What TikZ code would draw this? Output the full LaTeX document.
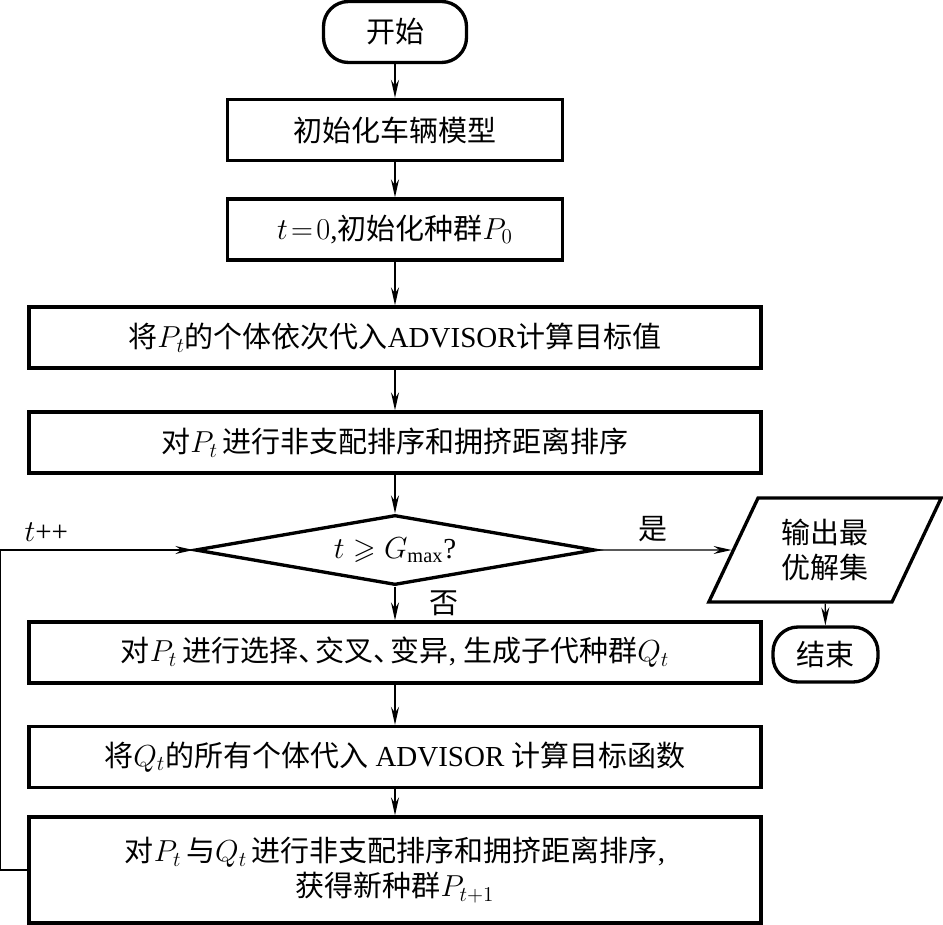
\documentclass[tikz,border=0pt]{standalone}
\usepackage{amsmath,amssymb}
\usepackage{fontspec}
\setmainfont{Liberation Serif}
\newfontfamily\zhfont{Noto Sans CJK SC}
\newcommand{\zhtext}[1]{{\zhfont #1}}
\newcommand{\dun}{\zhtext{、}\kern-0.4em}
\usepackage{tikz}
\usetikzlibrary{positioning,arrows.meta,shapes.geometric,calc}

\begin{document}
\begin{tikzpicture}[
  font=\fontsize{16.5}{20}\selectfont,
  >={Stealth[length=3.6mm, width=1.6mm, inset=1.2mm]},
  base/.style={draw, line width=1.9pt, align=center, inner sep=2pt},
  proc/.style={base, minimum height=1.22cm},
  narrow/.style={proc, minimum width=6.7cm},
  wide/.style={proc, minimum width=14.64cm},
  term/.style={base, rounded corners=0.5cm, minimum height=1.15cm},
  ar/.style={->, line width=0.8pt}
]
\useasboundingbox (0,0) rectangle (18.86,-18.48);
% 主流程
\node[term, minimum width=2.86cm, minimum height=1.22cm] (start) at (7.9,-0.64) {\zhtext{开始}};
\node[narrow] (init) at (7.9,-2.6) {\zhtext{初始化车辆模型}};
\node[narrow] (pop) at (7.9,-4.59) {$t\!=\!0$,\zhtext{初始化种群}$P_0$};
\node[wide] (eval) at (7.9,-6.75) {\zhtext{将}$P_t$\zhtext{的个体依次代入}ADVISOR\zhtext{计算目标值}};
\node[wide] (sort) at (7.9,-8.85) {\zhtext{对}$P_t$\,\zhtext{进行非支配排序和拥挤距离排序}};
\node[base, shape=diamond, aspect=5.7, inner sep=0pt, minimum width=8cm, minimum height=1.4cm] (check) at (7.9,-11.0) {$t\geqslant G_{\max}$?};
\node[wide] (breed) at (7.9,-13.05) {\zhtext{对}$P_t$\,\zhtext{进行选择}\dun\zhtext{交叉}\dun\zhtext{变异}, \zhtext{生成子代种群}$Q_t$};
\node[wide] (evalq) at (7.9,-15.14) {\zhtext{将}$Q_t$\zhtext{的所有个体代入} ADVISOR \zhtext{计算目标函数}};
\node[wide, minimum height=2.12cm] (merge) at (7.9,-17.4) {\zhtext{对}$P_t$\,\zhtext{与}$Q_t$\,\zhtext{进行非支配排序和拥挤距离排序},\\
  \zhtext{获得新种群}$P_{t+1}$};
% 输出
\node[base, shape=trapezium, trapezium left angle=63.4, trapezium right angle=116.6,
  trapezium stretches=true, minimum width=4.68cm, minimum height=2.08cm] (out) at (16.5,-11.0) {\zhtext{输出最}\\\zhtext{优解集}};
\node[term, minimum width=2.1cm, minimum height=1.1cm] (stop) at (16.51,-13.09) {\zhtext{结束}};
% 箭头
\draw[ar] (start) -- (init);
\draw[ar] (init) -- (pop);
\draw[ar] (pop) -- (eval);
\draw[ar] (eval) -- (sort);
\draw[ar] (sort) -- (check);
\draw[ar] (check) -- node[pos=0.5, right=0.55cm] (no) {\zhtext{否}} (breed);
\draw[ar] (breed) -- (evalq);
\draw[ar] (evalq) -- (merge);
\draw[ar] (check) -- node[pos=0.42, above=1pt] (yes) {\zhtext{是}} (out);
\draw[ar] (out) -- (stop);
\draw[ar] (merge.west) -- ++(-0.55,0) coordinate (loop) |- node[pos=0.62, above=1pt] (inc) {$t$++} (check.west);
\end{tikzpicture}
\end{document}
